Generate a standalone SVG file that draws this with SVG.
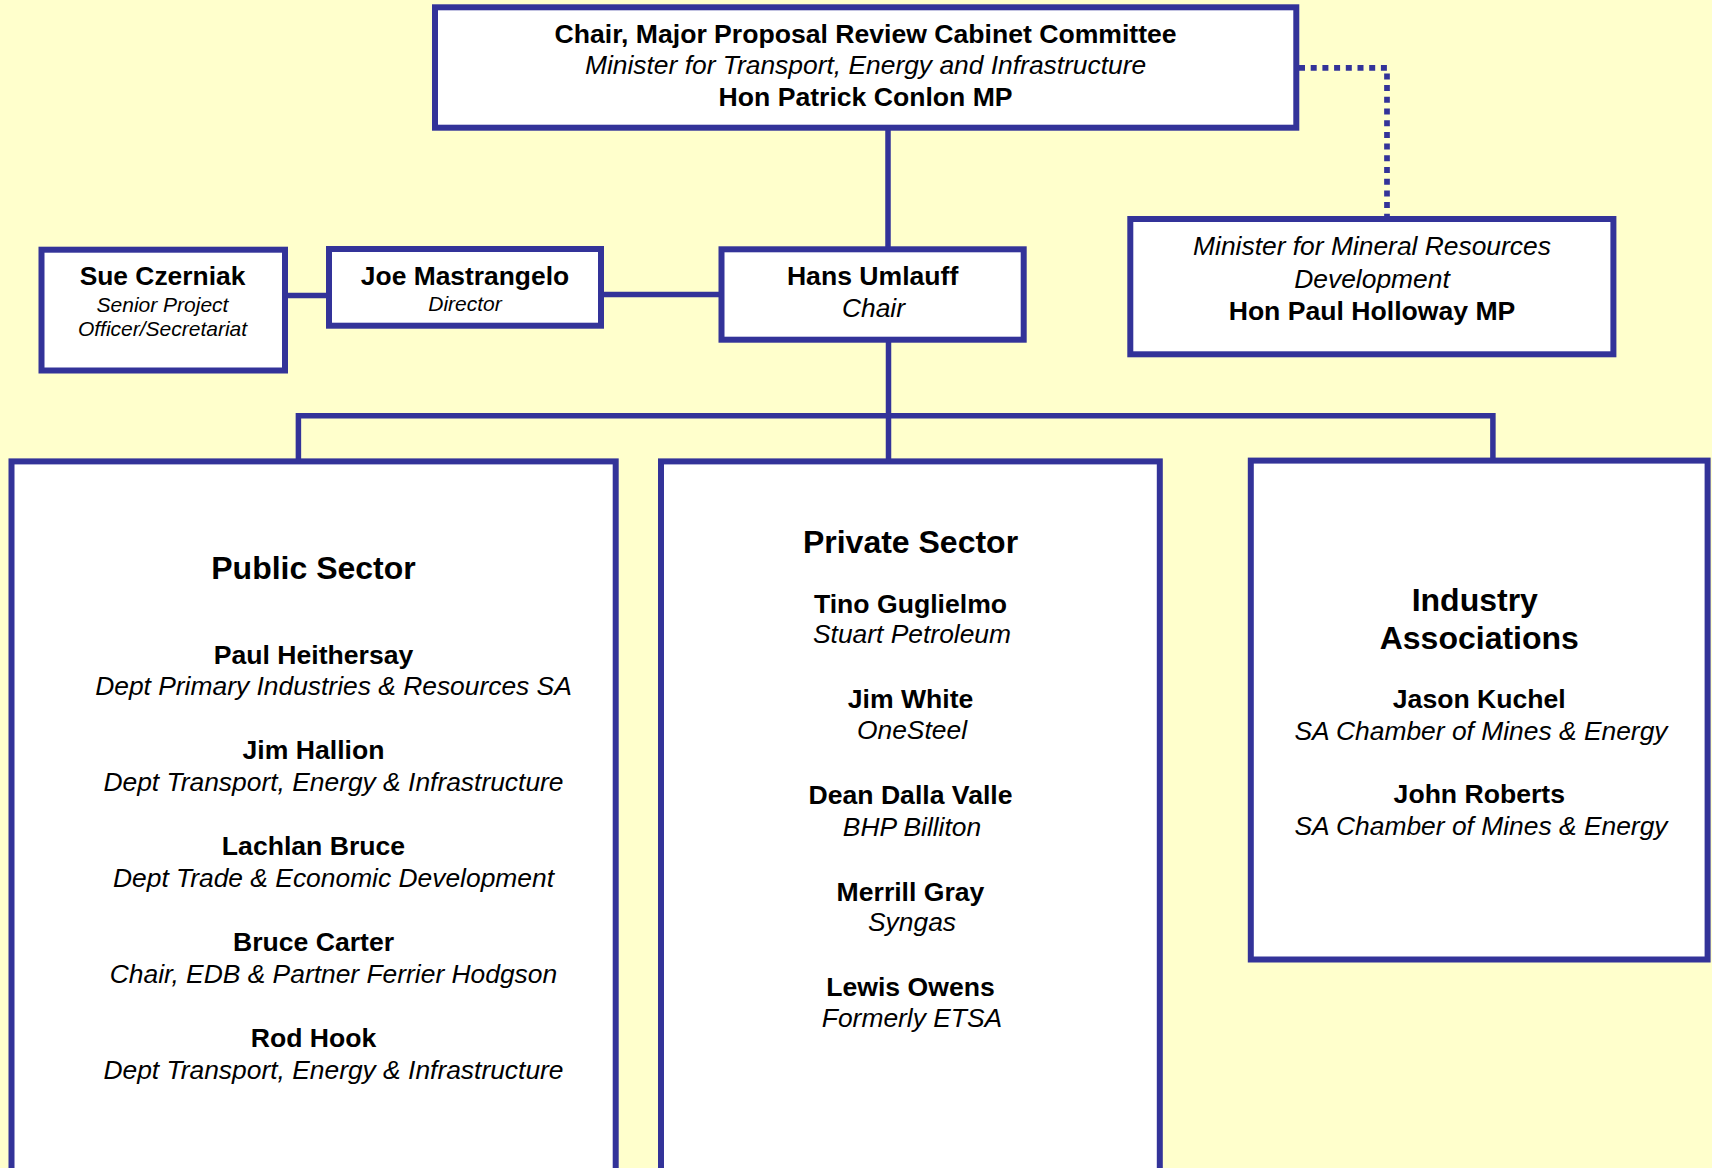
<svg xmlns="http://www.w3.org/2000/svg" width="1712" height="1168" viewBox="0 0 1712 1168">
<style>
.box{fill:#ffffff;stroke:#333399;stroke-width:6}
.ln{fill:none;stroke:#333399;stroke-width:5.5}
.dot{fill:none;stroke:#333399;stroke-width:5.7;stroke-dasharray:6 5.7}
text{font-family:"Liberation Sans",Arial,sans-serif;fill:#000000;text-anchor:middle}
.b{font-weight:bold;font-size:26.6px}
.i{font-style:italic;font-size:26.4px}
.bs{font-weight:bold;font-size:26.4px}
.is{font-style:italic;font-size:21px}
.h{font-weight:bold;font-size:32px}
</style>
<rect x="0" y="0" width="1712" height="1168" fill="#ffffcc"/>
<g id="connectors">
<path class="ln" d="M888,127.7 V249.3"/>
<path class="ln" d="M285,295.5 H329"/>
<path class="ln" d="M601,294.5 H721.5"/>
<path class="ln" d="M888.5,339.7 V461.4"/>
<path class="ln" d="M298.4,461.4 V415.8 H1492.9 V460.6"/>
<path class="dot" d="M1299,67.8 H1387 V216"/>
</g>
<g id="chair-committee">
<rect class="box" x="435" y="7.3" width="861.3" height="120.4"/>
<text class="b" x="865.6" y="42.7">Chair, Major Proposal Review Cabinet Committee</text>
<text class="i" x="865.6" y="74.2">Minister for Transport, Energy and Infrastructure</text>
<text class="b" x="865.6" y="106">Hon Patrick Conlon MP</text>
</g>
<g id="minister-mineral">
<rect class="box" x="1130.3" y="219" width="483.1" height="135.3"/>
<text class="i" x="1372" y="255.3">Minister for Mineral Resources</text>
<text class="i" x="1372" y="287.5">Development</text>
<text class="b" x="1372" y="319.5">Hon Paul Holloway MP</text>
</g>
<g id="sue">
<rect class="box" x="41.5" y="249.7" width="243.5" height="120.8"/>
<text class="bs" x="162.5" y="285">Sue Czerniak</text>
<text class="is" x="162.5" y="311.7">Senior Project</text>
<text class="is" x="162.5" y="336">Officer/Secretariat</text>
</g>
<g id="joe">
<rect class="box" x="329" y="249" width="272" height="76.7"/>
<text class="bs" x="465" y="285">Joe Mastrangelo</text>
<text class="is" x="465" y="311">Director</text>
</g>
<g id="hans">
<rect class="box" x="721.5" y="249.3" width="302.2" height="90.4"/>
<text class="b" x="872.6" y="285">Hans Umlauff</text>
<text class="i" x="873.5" y="316.5">Chair</text>
</g>
<g id="public-sector">
<rect class="box" x="11.5" y="461.4" width="604.2" height="740"/>
<text class="h" x="313.5" y="579.3">Public Sector</text>
<text class="b" x="313.5" y="663.8">Paul Heithersay</text>
<text class="i" x="333.5" y="695.3">Dept Primary Industries &amp; Resources SA</text>
<text class="b" x="313.5" y="759.4">Jim Hallion</text>
<text class="i" x="333.5" y="791.2">Dept Transport, Energy &amp; Infrastructure</text>
<text class="b" x="313.5" y="855.4">Lachlan Bruce</text>
<text class="i" x="333.5" y="887">Dept Trade &amp; Economic Development</text>
<text class="b" x="313.5" y="951.4">Bruce Carter</text>
<text class="i" x="333.5" y="983">Chair, EDB &amp; Partner Ferrier Hodgson</text>
<text class="b" x="313.5" y="1047.3">Rod Hook</text>
<text class="i" x="333.5" y="1078.9">Dept Transport, Energy &amp; Infrastructure</text>
</g>
<g id="private-sector">
<rect class="box" x="661" y="461.4" width="498.8" height="740"/>
<text class="h" x="910.5" y="552.8">Private Sector</text>
<text class="b" x="910.5" y="612.7">Tino Guglielmo</text>
<text class="i" x="912" y="643.3">Stuart Petroleum</text>
<text class="b" x="910.5" y="708.4">Jim White</text>
<text class="i" x="912" y="739.4">OneSteel</text>
<text class="b" x="910.5" y="804.4">Dean Dalla Valle</text>
<text class="i" x="912" y="835.5">BHP Billiton</text>
<text class="b" x="910.5" y="900.5">Merrill Gray</text>
<text class="i" x="912" y="931.3">Syngas</text>
<text class="b" x="910.5" y="996.3">Lewis Owens</text>
<text class="i" x="912" y="1027.3">Formerly ETSA</text>
</g>
<g id="industry-associations">
<rect class="box" x="1250.8" y="460.6" width="456.8" height="498.9"/>
<text class="h" x="1474.8" y="611.1">Industry</text>
<text class="h" x="1479.3" y="648.7">Associations</text>
<text class="b" x="1479.3" y="707.9">Jason Kuchel</text>
<text class="i" x="1481" y="739.6">SA Chamber of Mines &amp; Energy</text>
<text class="b" x="1479.3" y="803.3">John Roberts</text>
<text class="i" x="1481" y="835">SA Chamber of Mines &amp; Energy</text>
</g>
</svg>
